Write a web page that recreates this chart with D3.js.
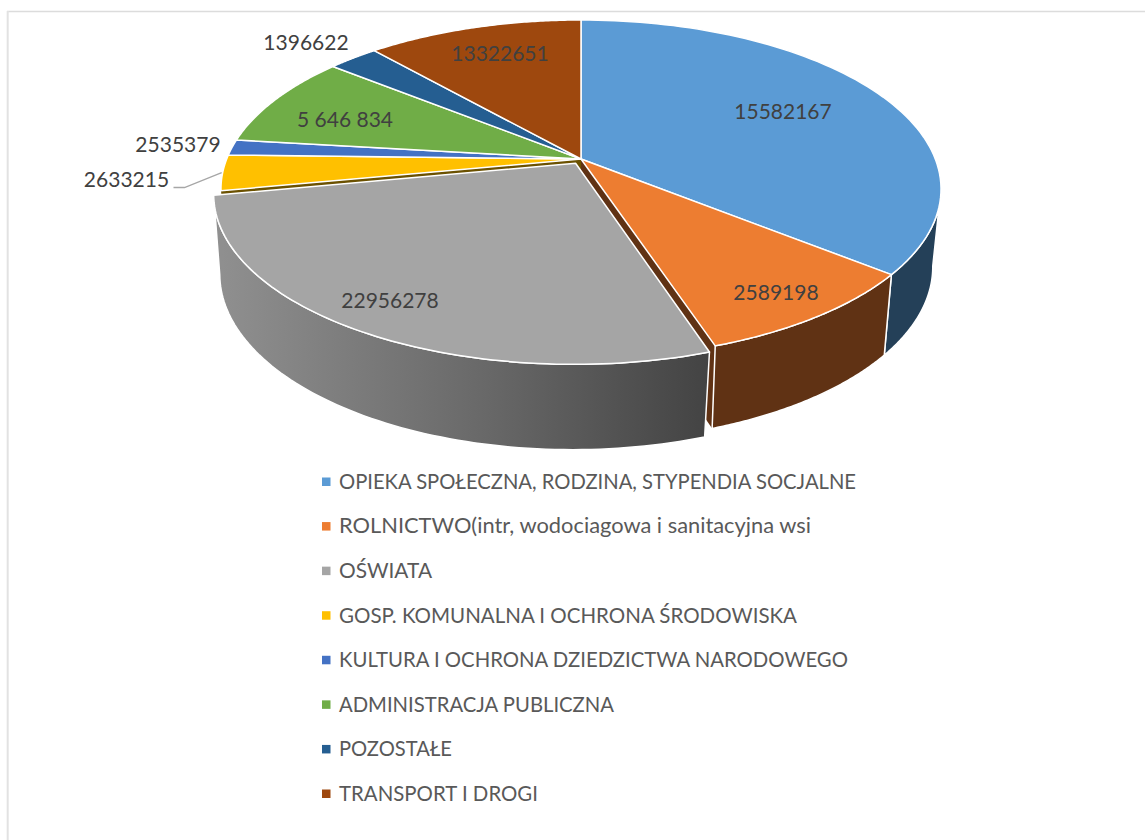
<!DOCTYPE html>
<html>
<head>
<meta charset="utf-8">
<script src="https://cdn.jsdelivr.net/npm/d3@7"></script>
<style>
  html, body { margin: 0; padding: 0; background: #fff; }
  svg { display: block; font-family: Lato, sans-serif; }
</style>
</head>
<body>
<svg id="chart" width="1145" height="840"></svg>
<script>
const categories = [
  'OPIEKA SPOŁECZNA, RODZINA, STYPENDIA SOCJALNE',
  'ROLNICTWO(intr, wodociagowa i sanitacyjna wsi',
  'OŚWIATA',
  'GOSP. KOMUNALNA I OCHRONA ŚRODOWISKA',
  'KULTURA I OCHRONA DZIEDZICTWA NARODOWEGO',
  'ADMINISTRACJA PUBLICZNA',
  'POZOSTAŁE',
  'TRANSPORT I DROGI'
];
// printed labels, they don't add up to the drawn slices so both are kept
const printedValues = ['15582167', '2589198', '22956278', '2633215', '2535379', '5 646 834', '1396622', '13322651'];
// slice size in % of the circle
const sliceShares = [35.8, 9.1, 27.1, 3.4, 1.5, 8.9, 2.7, 11.5];
const topColors = ['#5b9bd5', '#ed7d31', '#a5a5a5', '#ffc000', '#4472c4', '#70ad47', '#255e91', '#9e480e'];
const wallColors = ['#244058', '#603214', '#666666', '#6b5100', '#1c3052', '#2f4a1e', '#10283e', '#431e06'];

// label placement, in page pixels
const labelLayout = [
  { x: 783, y: 112 }, { x: 776, y: 293 }, { x: 390, y: 301 }, { x: 126.5, y: 180 },
  { x: 178, y: 145 }, { x: 345, y: 120 }, { x: 306, y: 43 }, { x: 500, y: 54 }
];
// Lato caps run wider than the original font, so legend lines are fitted to these widths
const legendWidths = [517, 472, 93, 458, 509, 275, 113, 199];

const svg = d3.select('#chart');

// chart frame, only top and left show in the crop
svg.append('line')
  .attr('x1', 7).attr('x2', 1145).attr('y1', 11.5).attr('y2', 11.5)
  .attr('stroke', '#dcdcdc').attr('stroke-width', 1.5);
svg.append('line')
  .attr('x1', 7.7).attr('x2', 7.7).attr('y1', 11).attr('y2', 840)
  .attr('stroke', '#e2e2e2').attr('stroke-width', 2);

// tilted disc, flat circle -> screen with a bit of perspective
const cx = 581, topCy = 159, bottomCy = 236;
const rx = 354.3, ry = 163.7, persp = 0.1776;
const bottomScaleX = 0.977, bottomScaleY = 1.03;

function project(u, v, level) {
  const w = 1 - persp * v;
  if (level === 'bottom') {
    return [cx + bottomScaleX * rx * u / w, bottomCy + bottomScaleY * ry * v / w];
  }
  return [cx + rx * u / w, topCy + ry * v / w];
}

// a = radians clockwise from 12 o'clock, e = explode distance
function rimPoint(a, level, e, mid) {
  const u = Math.sin(a) + e * Math.sin(mid);
  const v = -Math.cos(a) - e * Math.cos(mid);
  return project(u, v, level);
}

function centerPoint(level, e, mid) {
  return project(e * Math.sin(mid), -e * Math.cos(mid), level);
}

function sampleAngles(a0, a1) {
  return d3.range(0, 81).map(i => a0 + (a1 - a0) * i / 80);
}

const pie = d3.pie().sort(null).value(d => d);
const slices = pie(sliceShares);
const explode = [0, 0, 0.03, 0, 0, 0, 0, 0];
const line = d3.line();

const defs = svg.append('defs');
const grayGrad = defs.append('linearGradient')
  .attr('id', 'grayWall')
  .attr('gradientUnits', 'userSpaceOnUse')
  .attr('x1', 215).attr('x2', 710).attr('y1', 0).attr('y2', 0);
grayGrad.append('stop').attr('offset', 0).attr('stop-color', '#909090');
grayGrad.append('stop').attr('offset', 0.55).attr('stop-color', '#686868');
grayGrad.append('stop').attr('offset', 1).attr('stop-color', '#434343');

function drawWall(g, a0, a1, e, mid, fill) {
  const angles = sampleAngles(a0, a1);
  // pulled out wall hangs a little lower in the picture
  const pts = angles.map(a => rimPoint(a, 'top', e, mid))
    .concat(angles.slice().reverse().map(a => rimPoint(a, 'bottom', e * 1.33, mid)));
  g.append('path')
    .attr('d', line(pts) + 'Z')
    .attr('fill', fill)
    .attr('stroke', '#fff').attr('stroke-width', 1.5).attr('stroke-linejoin', 'round');
}

function drawCutFace(g, a, fill) {
  const pts = [
    centerPoint('top', 0, 0), rimPoint(a, 'top', 0, 0),
    rimPoint(a, 'bottom', 0, 0), centerPoint('bottom', 0, 0)
  ];
  g.append('path').attr('d', line(pts) + 'Z').attr('fill', fill);
}

function drawTop(g, d, i, e) {
  const mid = (d.startAngle + d.endAngle) / 2;
  const pts = [centerPoint('top', e, mid)]
    .concat(sampleAngles(d.startAngle, d.endAngle).map(a => rimPoint(a, 'top', e, mid)));
  g.append('path')
    .attr('d', line(pts) + 'Z')
    .attr('fill', topColors[i])
    .attr('stroke', '#fff').attr('stroke-width', 1.5).attr('stroke-linejoin', 'round');
}

const pieG = svg.append('g');
const visibleFrom = 100 * Math.PI / 180; // right edge of the disc, back walls are hidden

// faces next to the pulled out slice
drawCutFace(pieG, slices[1].endAngle, wallColors[1]);
drawCutFace(pieG, slices[3].startAngle, wallColors[3]);

drawWall(pieG, visibleFrom, slices[0].endAngle, 0, 0, wallColors[0]);
drawWall(pieG, slices[1].startAngle, slices[1].endAngle, 0, 0, wallColors[1]);

slices.forEach((d, i) => {
  if (explode[i] === 0) drawTop(pieG, d, i, 0);
});

// pulled out slice goes last, it sits in front
slices.forEach((d, i) => {
  if (explode[i] === 0) return;
  const mid = (d.startAngle + d.endAngle) / 2;
  drawWall(pieG, d.startAngle, d.endAngle, explode[i], mid, 'url(#grayWall)');
  drawTop(pieG, d, i, explode[i]);
});

// leader line for the yellow slice
const yellowMid = (slices[3].startAngle + slices[3].endAngle) / 2;
const leaderEnd = rimPoint(yellowMid, 'top', 0, 0);
svg.append('path')
  .attr('d', line([[173.5, 187.5], [184.5, 187.5], [leaderEnd[0] - 1, leaderEnd[1]]]))
  .attr('fill', 'none').attr('stroke', '#a6a6a6').attr('stroke-width', 1.3);

// data labels
svg.append('g').selectAll('text')
  .data(printedValues)
  .join('text')
  .attr('x', (d, i) => labelLayout[i].x)
  .attr('y', (d, i) => labelLayout[i].y)
  .attr('dy', '0.35em')
  .attr('text-anchor', 'middle')
  .attr('font-size', 21)
  .attr('fill', '#404040')
  .text(d => d);

// legend
const legendY = d3.scalePoint()
  .domain(d3.range(categories.length))
  .range([481.5, 793.5]);

const legend = svg.append('g').selectAll('g')
  .data(categories)
  .join('g')
  .attr('transform', (d, i) => `translate(322,${legendY(i)})`);

legend.append('rect')
  .attr('x', 0).attr('y', -4)
  .attr('width', 8.5).attr('height', 8.5)
  .attr('fill', (d, i) => topColors[i]);

legend.append('text')
  .attr('x', 17)
  .attr('dy', '0.35em')
  .attr('font-size', 21)
  .attr('fill', '#595959')
  .attr('textLength', (d, i) => legendWidths[i])
  .attr('lengthAdjust', 'spacingAndGlyphs')
  .text(d => d);
</script>
</body>
</html>
